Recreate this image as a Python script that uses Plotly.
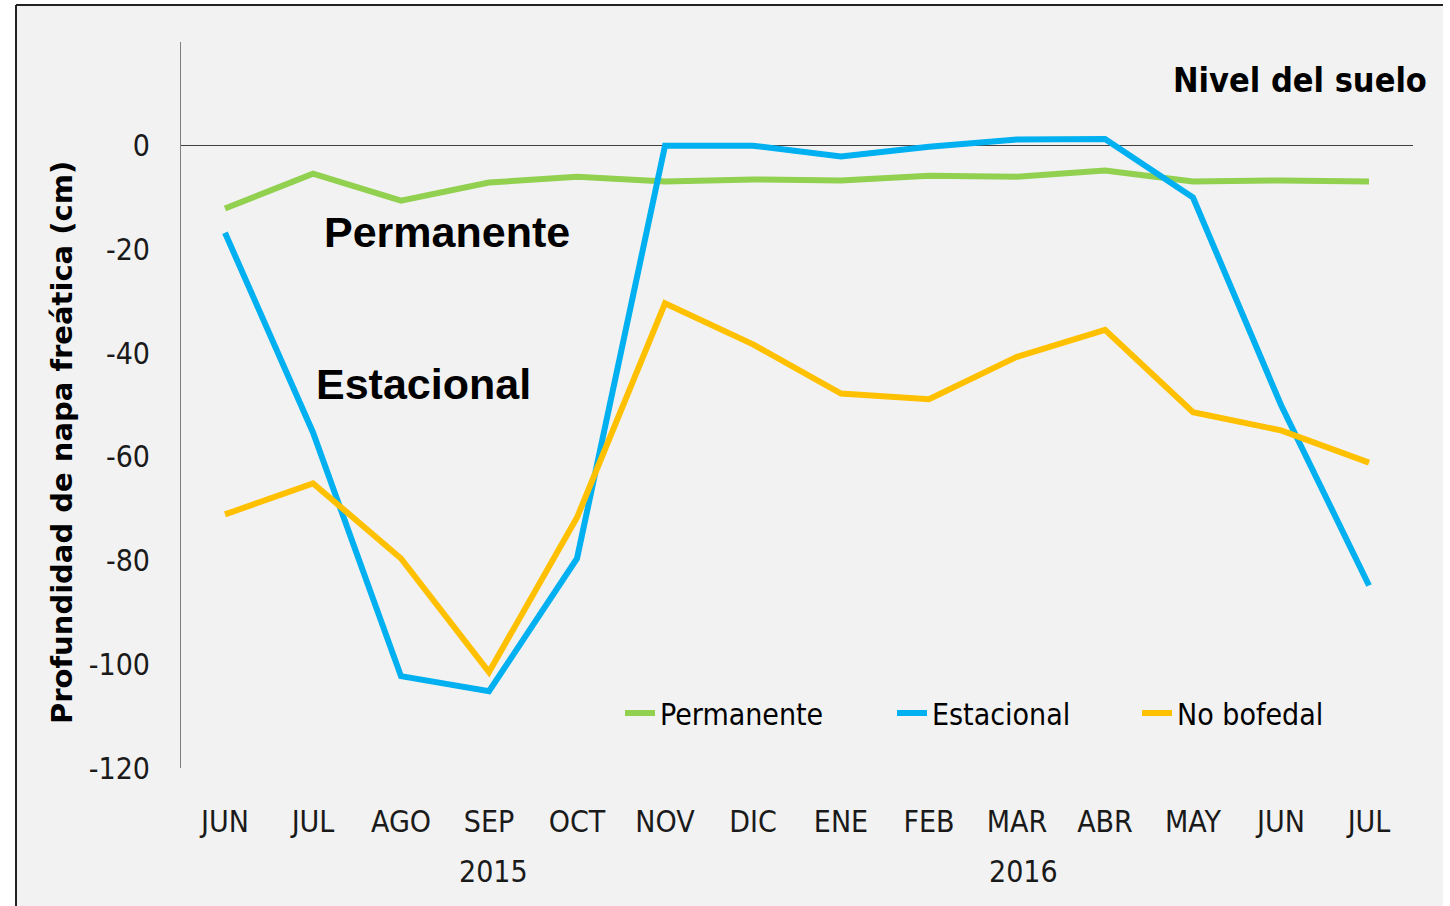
import plotly.graph_objects as go

months = ["JUN", "JUL", "AGO", "SEP", "OCT", "NOV", "DIC", "ENE", "FEB", "MAR", "ABR", "MAY", "JUN", "JUL"]
permanente = [-12.1, -5.4, -10.6, -7.1, -6.0, -6.9, -6.5, -6.7, -5.8, -6.0, -4.8, -6.9, -6.7, -6.9]
estacional = [-16.8, -55.3, -102.3, -105.2, -79.6, 0.0, 0.0, -2.1, -0.2, 1.2, 1.3, -10.0, -50.0, -84.8]
no_bofedal = [-71.1, -65.1, -79.6, -101.5, -71.7, -30.4, -38.3, -47.8, -48.9, -40.7, -35.5, -51.4, -54.9, -61.1]
y_ticks = [0, -20, -40, -60, -80, -100, -120]
years = [("2015", 3.05), ("2016", 9.07)]

xs = list(range(len(months)))
COND = "Liberation Sans Narrow, DejaVu Sans Condensed, sans-serif"

fig = go.Figure()
series = [("Permanente", permanente, "#92D050", "legend"),
          ("Estacional", estacional, "#00B0F0", "legend2"),
          ("No bofedal", no_bofedal, "#FFC000", "legend3")]
for name, vals, col, lg in series:
    fig.add_trace(go.Scatter(x=xs, y=vals, mode="lines", name=name,
                             line=dict(color=col, width=6), legend=lg))

# plot area: x 181..1413, y 42..768
L, R, T, B = 181, 1413, 42, 768
W, H = 1450, 906
def px(x):
    return (x - L) / (R - L)
def py(y):
    return (B - y) / (B - T)

shapes = [
    dict(type="rect", xref="paper", yref="paper", x0=px(16), x1=px(1443), y0=py(920), y1=py(5),
         fillcolor="#F2F2F2", line=dict(width=0), layer="below"),
    dict(type="line", xref="paper", yref="paper", x0=px(16), x1=px(1443), y0=py(5), y1=py(5),
         line=dict(color="#222222", width=2), layer="below"),
    dict(type="line", xref="paper", yref="paper", x0=px(16), x1=px(16), y0=py(5), y1=py(920),
         line=dict(color="#222222", width=2), layer="below"),
]

annotations = [
    dict(text="Profundidad de napa freática (cm)", xref="paper", yref="paper",
         x=px(62), y=py(443), textangle=-90, showarrow=False,
         font=dict(family="DejaVu Sans, sans-serif", size=29, color="black", weight="bold"),
         xanchor="center", yanchor="middle"),
    dict(text="<b>Nivel del suelo</b>", xref="paper", yref="paper", x=px(1429), y=py(80),
         xanchor="right", yanchor="middle", showarrow=False,
         font=dict(family=COND, size=34, color="black")),
    dict(text="<b>Permanente</b>", xref="paper", yref="paper", x=px(447), y=py(232),
         xanchor="center", yanchor="middle", showarrow=False,
         font=dict(family="Liberation Sans, Arial, sans-serif", size=43, color="black")),
    dict(text="<b>Estacional</b>", xref="paper", yref="paper", x=px(423), y=py(384),
         xanchor="center", yanchor="middle", showarrow=False,
         font=dict(family="Liberation Sans, Arial, sans-serif", size=43, color="black")),
]
for label, xpos in years:
    annotations.append(dict(text=label, x=xpos, xref="x", yref="paper", y=py(871),
                            xanchor="center", yanchor="middle", showarrow=False,
                            font=dict(family=COND, size=30, color="#1a1a1a")))

leg_common = dict(orientation="h", bgcolor="rgba(0,0,0,0)", font=dict(family=COND, size=30, color="black"),
                  xanchor="left", yanchor="middle", itemwidth=30, tracegroupgap=0)
fig.update_layout(
    width=W, height=H,
    margin=dict(l=L, r=W - R, t=T, b=H - B),
    paper_bgcolor="white", plot_bgcolor="rgba(0,0,0,0)",
    showlegend=True,
    legend=dict(x=px(620), y=py(713), **leg_common),
    legend2=dict(x=px(892), y=py(713), **leg_common),
    legend3=dict(x=px(1137), y=py(713), **leg_common),
    shapes=shapes, annotations=annotations,
    xaxis=dict(range=[-0.5, 13.5], tickvals=xs, ticktext=months, showgrid=False, zeroline=False,
               showline=False, ticks="", ticklabelstandoff=33,
               tickfont=dict(family=COND, size=30, color="#1a1a1a")),
    yaxis=dict(range=[-120, 20], tickvals=y_ticks, ticktext=[str(v) for v in y_ticks],
               showgrid=False, zeroline=True, zerolinecolor="#404040", zerolinewidth=1,
               showline=True, linecolor="#7f7f7f", linewidth=1, ticks="", ticklabelstandoff=24,
               tickfont=dict(family=COND, size=30, color="#1a1a1a")),
)

fig.write_html("out.html", config={"displayModeBar": False},
               post_script="document.body.style.margin='0';document.body.style.padding='0';")
